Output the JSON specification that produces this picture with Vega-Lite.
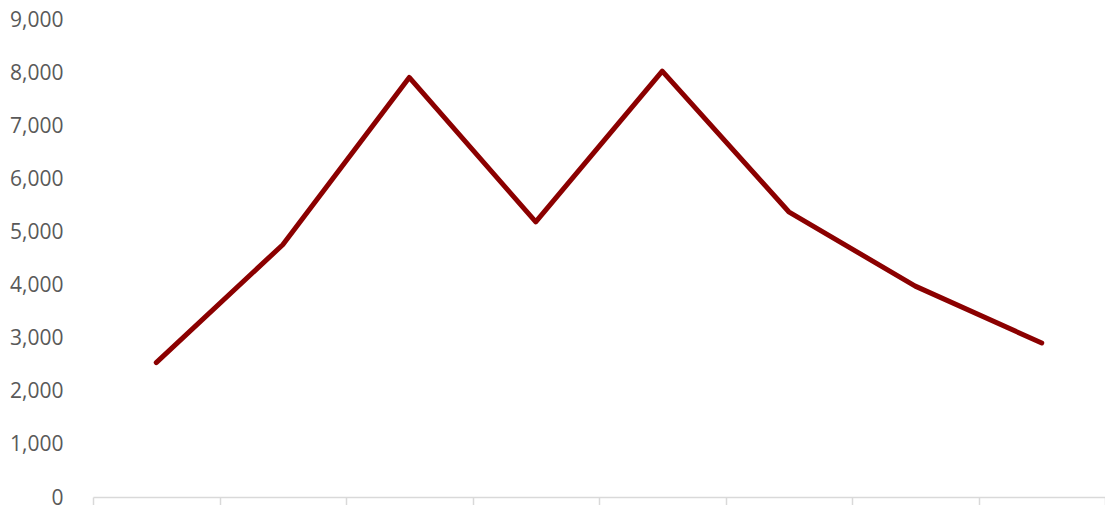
{
  "$schema": "https://vega.github.io/schema/vega-lite/v6.json",
  "autosize": {"type": "none"},
  "width": 1012,
  "height": 478,
  "padding": {"left": 93, "top": 19, "right": 0, "bottom": 8},
  "background": "white",
  "config": {"view": {"stroke": null}},
  "data": {"values": [
    {"cat": "1", "value": 2530},
    {"cat": "2", "value": 4750},
    {"cat": "3", "value": 7900},
    {"cat": "4", "value": 5180},
    {"cat": "5", "value": 8020},
    {"cat": "6", "value": 5370},
    {"cat": "7", "value": 3970},
    {"cat": "8", "value": 2900}
  ]},
  "mark": {"type": "line", "color": "#8B0000", "strokeWidth": 5, "strokeCap": "round", "strokeJoin": "round"},
  "encoding": {
    "x": {
      "field": "cat", "type": "ordinal",
      "scale": {"type": "band", "paddingInner": 0, "paddingOuter": 0},
      "axis": {"title": null, "labels": false, "domainColor": "#D9D9D9", "domainWidth": 1.5, "tickColor": "#D9D9D9", "tickWidth": 1.5, "tickSize": 8, "tickBand": "extent", "grid": false}
    },
    "y": {
      "field": "value", "type": "quantitative",
      "scale": {"domain": [0, 9000], "nice": false},
      "axis": {"title": null, "values": [0,1000,2000,3000,4000,5000,6000,7000,8000,9000], "format": ",.0f", "domain": false, "ticks": false, "grid": false, "labelPadding": 30, "labelFont": "Open Sans", "labelFontSize": 21, "labelColor": "#595959", "labelBaseline": "alphabetic", "labelOffset": 7}
    }
  }
}
